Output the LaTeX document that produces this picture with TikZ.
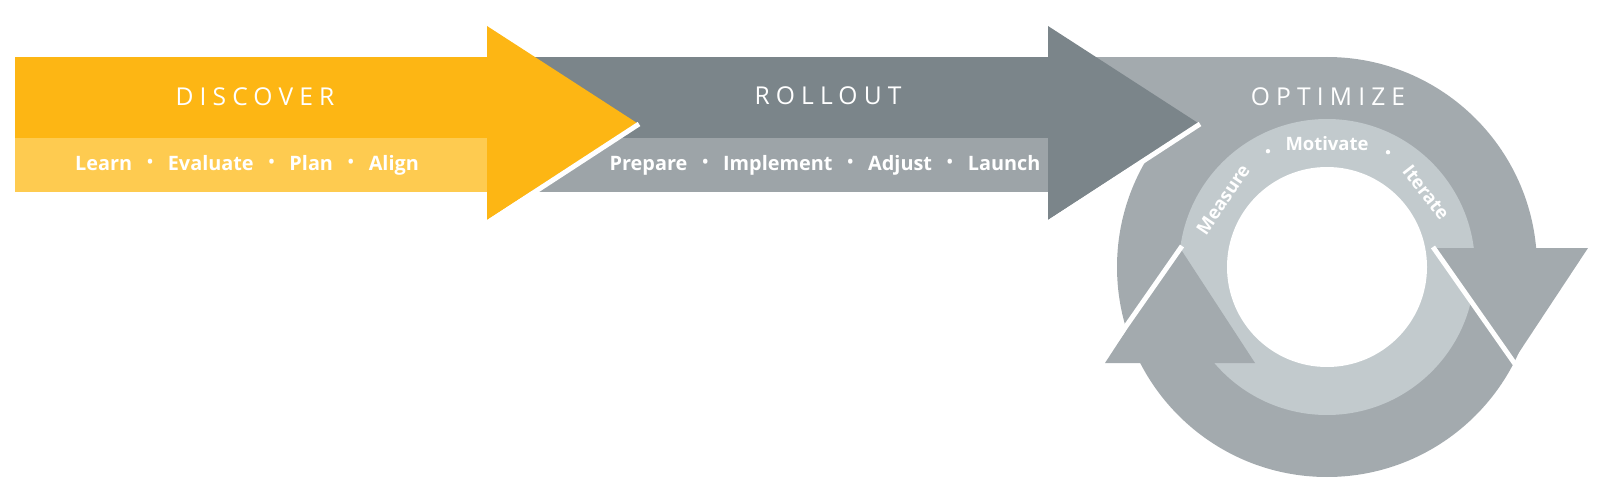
\documentclass[tikz,border=0pt]{standalone}
\usepackage{fontspec}
\usepackage{graphicx}
\setmainfont{Open Sans}
\newfontfamily\trackfont[LetterSpace=25]{Open Sans}

\definecolor{discdark}{HTML}{FDB614}
\definecolor{disclight}{HTML}{FECB50}
\definecolor{rolldark}{HTML}{7B858A}
\definecolor{rolllight}{HTML}{9DA4A8}
\definecolor{optring}{HTML}{A3AAAE}
\definecolor{optlight}{HTML}{C2CACD}

\newcommand{\sepdot}{\hspace{0.75em}\raisebox{0.2ex}{\scalebox{0.8}{\textbullet}}\hspace{0.75em}}

\begin{document}
\begin{tikzpicture}[x=0.02cm,y=0.02cm,
    title/.style={text=white,font=\trackfont\fontsize{14}{16}\selectfont},
    steps/.style={text=white,font=\bfseries\fontsize{11.3}{13}\selectfont},
    ringtext/.style={text=white,font=\bfseries\fontsize{10.5}{12}\selectfont,inner sep=1pt},
    cut/.style={white,line width=2.8pt}]
    \useasboundingbox (0,0) rectangle (1600,-500);
    % optimize: ring with two heads
    \fill[optring] (1048,-57) rectangle (1327,-120);
    \fill[optring] (1327,-267) circle (210);
    \fill[optlight] (1327,-267) circle (148);
    \fill[white] (1327,-267) circle (100);
    \fill[optring] (1180,-248) -- (1105,-363) -- (1255,-363) -- cycle;
    \draw[cut] (1182,-246) -- (1099,-365);
    \fill[optring] (1434,-248) -- (1588,-248) -- (1512,-363) -- cycle;
    \draw[cut] (1433,-247) -- (1515,-364);
    % rollout and discover bands
    \foreach \a/\b/\dk/\lt in {487/1048/rolldark/rolllight,15/487/discdark/disclight}
    {
        \fill[\dk] (\a,-57) rectangle (\b,-138);
        \fill[\lt] (\a,-138) rectangle (\b,-192);
        \fill[\dk] (\b,-26) -- (\b+150,-123) -- (\b,-220) -- cycle;
        \draw[cut] (\b+152,-124) -- (\b,-223);
    }
    \node[title] (disc) at (255,-97) {DISCOVER};
    \node[steps] (discsteps) at (247,-165) {Learn\sepdot Evaluate\sepdot Plan\sepdot Align};
    \node[title] (roll) at (828,-96) {ROLLOUT};
    \node[steps] (rollsteps) at (825,-165) {Prepare\sepdot Implement\sepdot Adjust\sepdot Launch};
    \node[title] (opt) at (1328,-97) {OPTIMIZE};
    \node[ringtext,rotate=56] (meas) at ([shift={(147:124)}]1327,-267) {Measure};
    \node[ringtext] (motiv) at ([shift={(90:123)}]1327,-267) {Motivate};
    \node[ringtext,rotate=-52] (iter) at ([shift={(37:124)}]1327,-267) {Iterate};
    \foreach \t in {117,62}
        \fill[white] ([shift={(\t:130)}]1327,-267) circle (2.2);
\end{tikzpicture}
\end{document}
